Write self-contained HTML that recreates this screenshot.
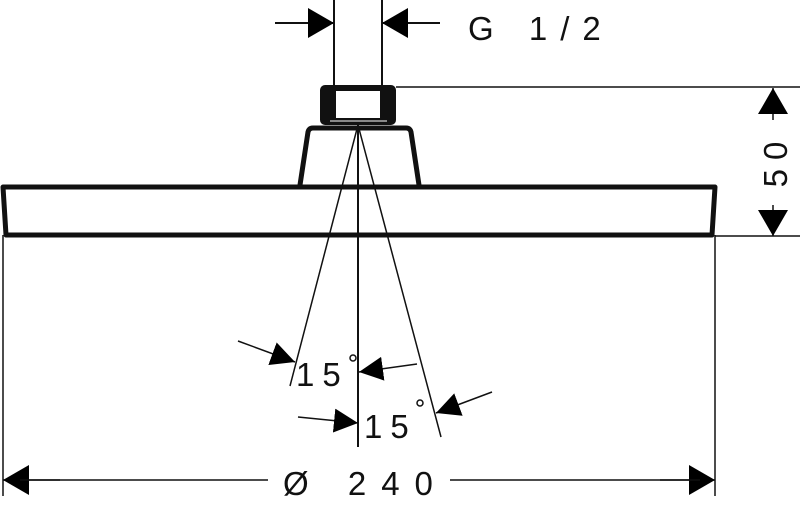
<!DOCTYPE html>
<html><head><meta charset="utf-8"><style>html,body{margin:0;padding:0;background:#fff}svg{display:block}</style></head>
<body>
<svg width="800" height="506" viewBox="0 0 800 506" xmlns="http://www.w3.org/2000/svg" font-family="'Liberation Sans',sans-serif" fill="#111">
<defs>
<marker id="a" viewBox="0 0 26 30" refX="26" refY="15" markerWidth="26" markerHeight="30" markerUnits="userSpaceOnUse" orient="auto"><path d="M0,0L26,15L0,30z" fill="#000"/></marker>
<marker id="b" viewBox="0 0 24 24" refX="24" refY="12" markerWidth="24" markerHeight="24" markerUnits="userSpaceOnUse" orient="auto"><path d="M0,0L24,12L0,24z" fill="#000"/></marker>
</defs>
<g stroke="#111" fill="none">
<line x1="334" y1="0" x2="334" y2="86" stroke-width="2"/>
<line x1="382" y1="0" x2="382" y2="86" stroke-width="2"/>
<line x1="275" y1="23" x2="334" y2="23" stroke-width="2" marker-end="url(#a)"/>
<line x1="440" y1="23" x2="382" y2="23" stroke-width="2" marker-end="url(#a)"/>
<rect x="320" y="85" width="76" height="40" rx="5" fill="#111" stroke="none"/>
<rect x="336" y="91" width="44" height="27" fill="#fff" stroke="none"/>
<line x1="330" y1="121" x2="387" y2="121" stroke="#fff" stroke-width="1"/>
<path d="M300,185 L308,132 Q309,128 313,128 L406,128 Q410,128 411,132 L419,185" stroke-width="5"/>
<path d="M3,187 L715,187 L712,235 L6,235 Z" stroke-width="5" stroke-linejoin="round"/>
<line x1="396" y1="87" x2="800" y2="87" stroke-width="1.5"/>
<line x1="715" y1="236" x2="800" y2="236" stroke-width="1.5"/>
<line x1="3" y1="235" x2="3" y2="496" stroke-width="1.5"/>
<line x1="715" y1="235" x2="715" y2="496" stroke-width="1.5"/>
<line x1="358" y1="125" x2="358" y2="447" stroke-width="2"/>
<line x1="358" y1="125" x2="290" y2="386" stroke-width="1.5"/>
<line x1="358" y1="125" x2="441" y2="437" stroke-width="1.5"/>
<line x1="773" y1="120" x2="773" y2="88" stroke-width="1.5" marker-end="url(#a)"/>
<line x1="773" y1="205" x2="773" y2="236" stroke-width="1.5" marker-end="url(#a)"/>
<line x1="60" y1="480" x2="3" y2="480" stroke-width="1.5" marker-end="url(#a)"/>
<line x1="660" y1="480" x2="715" y2="480" stroke-width="1.5" marker-end="url(#a)"/>
<line x1="20" y1="480" x2="268" y2="480" stroke-width="1.5"/>
<line x1="450" y1="480" x2="700" y2="480" stroke-width="1.5"/>
<line x1="238" y1="341" x2="295" y2="362" stroke-width="1.5" marker-end="url(#b)"/>
<line x1="417" y1="364" x2="359" y2="372" stroke-width="1.5" marker-end="url(#b)"/>
<line x1="298" y1="417" x2="358" y2="423" stroke-width="1.5" marker-end="url(#b)"/>
<line x1="492" y1="392" x2="436" y2="413" stroke-width="1.5" marker-end="url(#b)"/>
<circle cx="353" cy="358" r="3" stroke-width="1.5"/>
<circle cx="420" cy="403" r="3" stroke-width="1.5"/>
</g>
<g font-size="33" fill="#111">
<text x="468" y="40" letter-spacing="13">G 1/2</text>
<text x="283" y="495" letter-spacing="15">Ø 240</text>
<text x="296" y="386" letter-spacing="8">15</text>
<text x="364" y="438" letter-spacing="8">15</text>
<text transform="translate(787,160) rotate(-90)" text-anchor="middle" letter-spacing="9">50</text>
</g>
</svg>
</body></html>
